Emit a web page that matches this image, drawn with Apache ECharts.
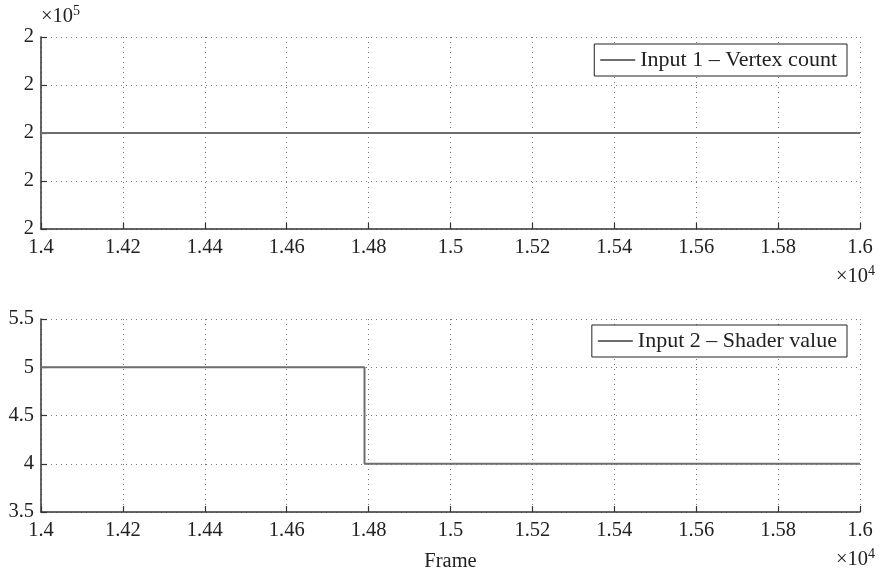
<!DOCTYPE html>
<html>
<head>
<meta charset="utf-8">
<script src="https://cdn.jsdelivr.net/npm/echarts@6/dist/echarts.min.js"></script>
<style>
html,body{margin:0;padding:0;background:#fff;}
#chart{width:880px;height:573px;}
</style>
</head>
<body>
<div id="chart"></div>
<script>
// ---- data ----
const vertexFrames = [14000, 16000];
const vertexCount = [200000, 200000];
const shaderFrames = [14000, 14790, 16000];
const shaderValue = [5, 4, 4];
const seriesNames = ['Input 1 \u2013 Vertex count', 'Input 2 \u2013 Shader value'];
const xLabel = 'Frame';

const FONT = 'Liberation Serif';
const TXT = '#222';
const LINE = '#6e6e6e';
const FS = 20.5;

function pairs(xs, ys){ return xs.map((x,i)=>[x, ys[i]]); }

const chart = echarts.init(document.getElementById('chart'), null, {renderer:'canvas'});

function xAxis(idx, withName){
  return {
    type:'value', gridIndex: idx, min:14000, max:16000, interval:200,
    axisLine:{show:true, onZero:false, lineStyle:{color:'#333', width:1.5}},
    axisTick:{show:true, inside:true, length:6, lineStyle:{color:'#333', width:1.2}},
    axisLabel:{fontFamily:FONT, fontSize:FS, color:TXT, margin:8,
      formatter:v=>String(parseFloat((v/1e4).toFixed(2)))},
    splitLine:{show:true, lineStyle:{type:[1,4], color:'#777', width:1}},
    name: withName ? xLabel : '',
    nameLocation:'middle', nameGap:39,
    nameTextStyle:{fontFamily:FONT, fontSize:FS, color:TXT}
  };
}
function yAxis(idx, min, max, interval, fmt){
  return {
    type:'value', gridIndex: idx, min, max, interval,
    axisLine:{show:true, onZero:false, lineStyle:{color:'#333', width:1.5}},
    axisTick:{show:true, inside:true, length:6, lineStyle:{color:'#333', width:1.2}},
    axisLabel:{fontFamily:FONT, fontSize:FS, color:TXT, margin:7, formatter:fmt},
    splitLine:{show:true, lineStyle:{type:[1,4], color:'#777', width:1}}
  };
}
const legendBase = {
  orient:'horizontal', right:33, icon:'rect', itemWidth:35, itemHeight:2,
  borderColor:'#222', borderWidth:1, backgroundColor:'#fff', borderRadius:0,
  padding:[5,10,5,6],
  textStyle:{fontFamily:FONT, fontSize:22, color:TXT},
  selectedMode:false
};
const rich = {s:{fontFamily:FONT, fontSize:14, fill:TXT, verticalAlign:'top', padding:[0,0,11,0]}};

chart.setOption({
  animation:false,
  backgroundColor:'#fff',
  grid:[
    {left:41, right:20, top:37, height:192},
    {left:41, right:20, top:319, height:193}
  ],
  xAxis:[xAxis(0,false), xAxis(1,true)],
  yAxis:[
    yAxis(0, 199998, 200002, 1, v=>String(Math.round(v/1e5))),
    yAxis(1, 3.5, 5.5, 0.5, v=>String(v))
  ],
  legend:[
    Object.assign({}, legendBase, {top:44, data:[seriesNames[0]]}),
    Object.assign({}, legendBase, {top:325, data:[seriesNames[1]]})
  ],
  series:[
    {name:seriesNames[0], type:'line', xAxisIndex:0, yAxisIndex:0, showSymbol:false,
     data:pairs(vertexFrames, vertexCount), color:LINE, lineStyle:{color:LINE, width:2}},
    {name:seriesNames[1], type:'line', xAxisIndex:1, yAxisIndex:1, showSymbol:false, step:'end',
     data:pairs(shaderFrames, shaderValue), color:LINE, lineStyle:{color:LINE, width:2}}
  ],
  graphic:[
    {type:'text', left:41, top:4, style:{text:'\u00d710{s|5}', fontFamily:FONT, fontSize:FS, fill:TXT, rich:rich}},
    {type:'text', right:5, top:264, style:{text:'\u00d710{s|4}', fontFamily:FONT, fontSize:FS, fill:TXT, rich:rich}},
    {type:'text', right:5, top:547, style:{text:'\u00d710{s|4}', fontFamily:FONT, fontSize:FS, fill:TXT, rich:rich}}
  ]
});
</script>
</body>
</html>
